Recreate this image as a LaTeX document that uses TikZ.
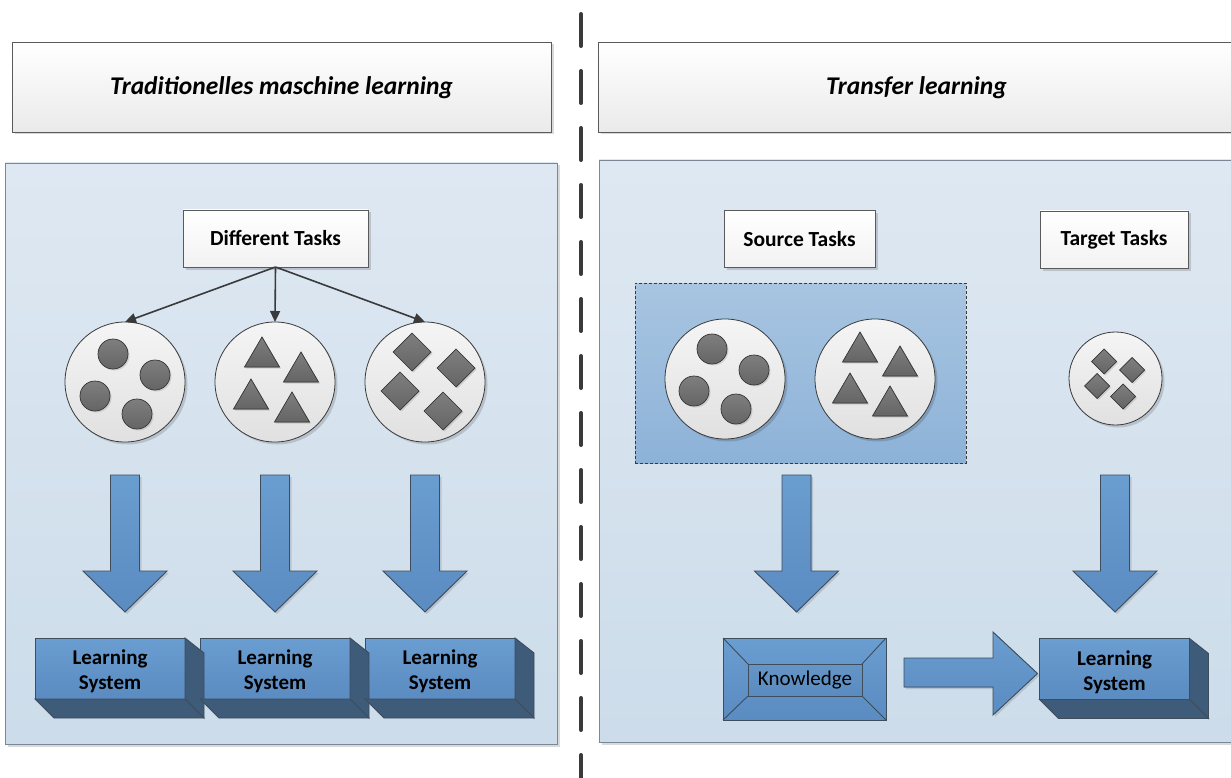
\documentclass[tikz,border=0pt]{standalone}
\usepackage{fontspec}
\setmainfont{Carlito}
\usetikzlibrary{arrows.meta,shadows,calc}
\definecolor{edge}{HTML}{3E4C5C}
\definecolor{paneltop}{HTML}{DEE8F2}
\definecolor{panelbot}{HTML}{CCDCEA}
\definecolor{panelborder}{HTML}{7A8796}
\definecolor{titlebot}{HTML}{EAEAEA}
\definecolor{boxborder}{HTML}{5A5A5A}
\definecolor{bluetop}{HTML}{6A9DD0}
\definecolor{bluebot}{HTML}{5A8BC1}
\definecolor{side}{HTML}{3F5B7A}
\definecolor{srctop}{HTML}{A8C5E1}
\definecolor{srcbot}{HTML}{8DB2D8}
\definecolor{shapegray}{HTML}{707070}
\definecolor{darkline}{HTML}{3A3A3A}
\definecolor{dashline}{HTML}{3A3A3A}
\newcommand\mytri[3]{\filldraw[shp] ($(#1)+(#2,#3)+(0,-15)$) -- ++(17.5,30) -- ++(-35,0) -- cycle;}
\newcommand\mydia[4]{\filldraw[shp] ($(#1)+(#2,#3)+(0,-#4)$) -- ++(#4,#4) -- ++(-#4,#4) -- ++(-#4,-#4) -- cycle;}
\newcommand\mydot[3]{\filldraw[shp] ($(#1)+(#2,#3)$) circle (15);}
\newcommand\threed[1]{%
  \filldraw[sideface] (#1.north east) -- ++(19,15) -- ($(#1.south east)+(19,19)$) -- (#1.south east) -- cycle;
  \filldraw[sideface] (#1.south west) -- ++(19,19) -- ($(#1.south east)+(19,19)$) -- (#1.south east) -- cycle;
  \node[lstext] (#1t) at ($(#1)+(0,3)$) {Learning\\System};}
\begin{document}
\begin{tikzpicture}[x=1pt,y=-1pt,
  softshadow/.style={drop shadow={shadow xshift=2.5pt,shadow yshift=-2.5pt,fill=black,opacity=0.15}},
  titlebox/.style={draw=boxborder, line width=0.8, top color=white, bottom color=titlebot,
    minimum height=90, outer sep=0, inner sep=0, softshadow},
  titletext/.style={font=\fontsize{25.5}{30}\selectfont\bfseries\itshape, inner sep=0},
  panel/.style={draw=panelborder, line width=0.8, top color=paneltop, bottom color=panelbot,
    outer sep=0, inner sep=0, softshadow},
  taskbox/.style={draw=boxborder, line width=0.8, top color=white, bottom color=black!5,
    minimum height=57, outer sep=0, inner sep=0, softshadow,
    font=\fontsize{21.5}{25}\selectfont\bfseries},
  bigc/.style={circle, draw=darkline, line width=0.8, top color=black!4, bottom color=black!12,
    inner sep=0, outer sep=0, softshadow},
  shp/.style={draw=darkline, line width=0.7, top color=shapegray!90!white, bottom color=shapegray!90!black,
    drop shadow={shadow xshift=1.5pt,shadow yshift=-1.5pt,fill=black,opacity=0.12}},
  lsys/.style={draw=edge, line width=0.9, top color=bluetop, bottom color=bluebot,
    minimum width=150, minimum height=61, outer sep=0, inner sep=0},
  lstext/.style={align=center, inner sep=0, font=\fontsize{21}{25}\selectfont\bfseries},
  sideface/.style={draw=edge, line width=0.9, fill=side},
  blockarrow/.style={draw=edge, line width=0.9, top color=bluetop, bottom color=bluebot,
    drop shadow={shadow xshift=2pt,shadow yshift=-2pt,fill=black,opacity=0.12}},
  pics/downarrow/.style={code={
    \filldraw[blockarrow] (-14.5,0) -- (14.5,0) -- (14.5,96) -- (42,96) -- (0,137)
      -- (-42,96) -- (-14.5,96) -- cycle;}},
  taskarrow/.style={draw=darkline, line width=1.6, -{Triangle[length=11pt,width=10pt]}}
]
\clip (0,0) rectangle (1231,778);
\fill[white] (0,0) rectangle (1231,778);

% separator
\coordinate (sepTop) at (581,14);
\coordinate (sepBot) at (581,790);
\draw[dashline, line width=4, line cap=round, dash pattern=on 32 off 25] (sepTop) -- (sepBot);

% titles
\node[titlebox, minimum width=539] (tl) at (281.5,87) {};
\node[titletext] (tlt) at (281.5,88) {Traditionelles maschine learning};
\node[titlebox, minimum width=640] (tr) at (918,87) {};
\node[titletext] (trt) at (916.5,88) {Transfer learning};

% panels
\node[panel, minimum width=552, minimum height=581] (pl) at (281,453.5) {};
\node[panel, minimum width=641, minimum height=582] (pr) at (919.5,451) {};

% left side
\node[taskbox, minimum width=185] (dt) at (275.5,238.5) {Different Tasks};
\node[bigc, minimum size=120] (c1) at (125,382) {};
\node[bigc, minimum size=120] (c2) at (275,382) {};
\node[bigc, minimum size=120] (c3) at (425,382) {};
\draw[taskarrow] (dt.south) -- (c1.north);
\draw[taskarrow] (dt.south) -- (c2.north);
\draw[taskarrow] (dt.south) -- (c3.north);
\mydot{c1}{-12}{-28}\mydot{c1}{30}{-7}\mydot{c1}{-30}{14}\mydot{c1}{12}{32}
\mytri{c2}{-13}{-30}\mytri{c2}{26}{-15}\mytri{c2}{-24}{12}\mytri{c2}{17}{25}
\mydia{c3}{-13}{-30}{19}\mydia{c3}{31}{-14}{19}\mydia{c3}{-25}{9}{19}\mydia{c3}{18}{29}{19}

\pic at (125,475) {downarrow};
\pic at (275,475) {downarrow};
\pic at (425,475) {downarrow};

\node[lsys] (ls1) at (110,668.5) {};
\node[lsys] (ls2) at (275,668.5) {};
\node[lsys] (ls3) at (440,668.5) {};
\threed{ls1}\threed{ls2}\threed{ls3}

% right side
\node[taskbox, minimum width=151] (st) at (799.5,239) {Source Tasks};
\node[taskbox, minimum width=148] (tt) at (1114,239.5) {Target Tasks};
\node[draw=darkline, line width=0.8, dash pattern=on 3pt off 2pt, top color=srctop, bottom color=srcbot,
  minimum width=331, minimum height=180, outer sep=0, inner sep=0] (src) at (800.5,373) {};
\node[bigc, minimum size=120] (c4) at (725,379) {};
\node[bigc, minimum size=120] (c5) at (875,379) {};
\node[bigc, minimum size=93] (c6) at (1115.5,378.5) {};
\mydot{c4}{-13}{-30}\mydot{c4}{29}{-9}\mydot{c4}{-31}{12}\mydot{c4}{11}{30}
\mytri{c5}{-15}{-32}\mytri{c5}{25}{-18}\mytri{c5}{-25}{9}\mytri{c5}{15}{22}
\mydia{c6}{-11.5}{-17}{12.5}\mydia{c6}{16.5}{-8.5}{12.5}\mydia{c6}{-18.5}{7.5}{12.5}\mydia{c6}{7.5}{18}{12.5}

\pic at (796.5,475) {downarrow};
\pic at (1115,475) {downarrow};

% knowledge bevel box
\node[draw=edge, line width=0.9, top color=bluetop, bottom color=bluebot,
  minimum width=163, minimum height=82, outer sep=0, inner sep=0] (know) at (804.5,679) {};
\node[draw=edge, line width=0.9, top color=bluetop!95!black, bottom color=bluebot,
  minimum width=114, minimum height=32, outer sep=0, inner sep=0,
  font=\fontsize{21}{25}\selectfont] (knowin) at (805,680) {Knowledge};
\draw[edge, line width=0.9] (know.north west) -- (knowin.north west);
\draw[edge, line width=0.9] (know.north east) -- (knowin.north east);
\draw[edge, line width=0.9] (know.south west) -- (knowin.south west);
\draw[edge, line width=0.9] (know.south east) -- (knowin.south east);

\node[lsys] (ls4) at (1114.5,669) {};
\threed{ls4}

% transfer arrow
\filldraw[blockarrow] ($(know.east)+(18,-21)$) -- ++(89,0) -- ++(0,-26) -- ($(ls4.west)+(-2,4.5)$)
  -- ($(know.east)+(107,36)$) -- ++(0,-28) -- ++(-89,0) -- cycle;
\end{tikzpicture}
\end{document}
